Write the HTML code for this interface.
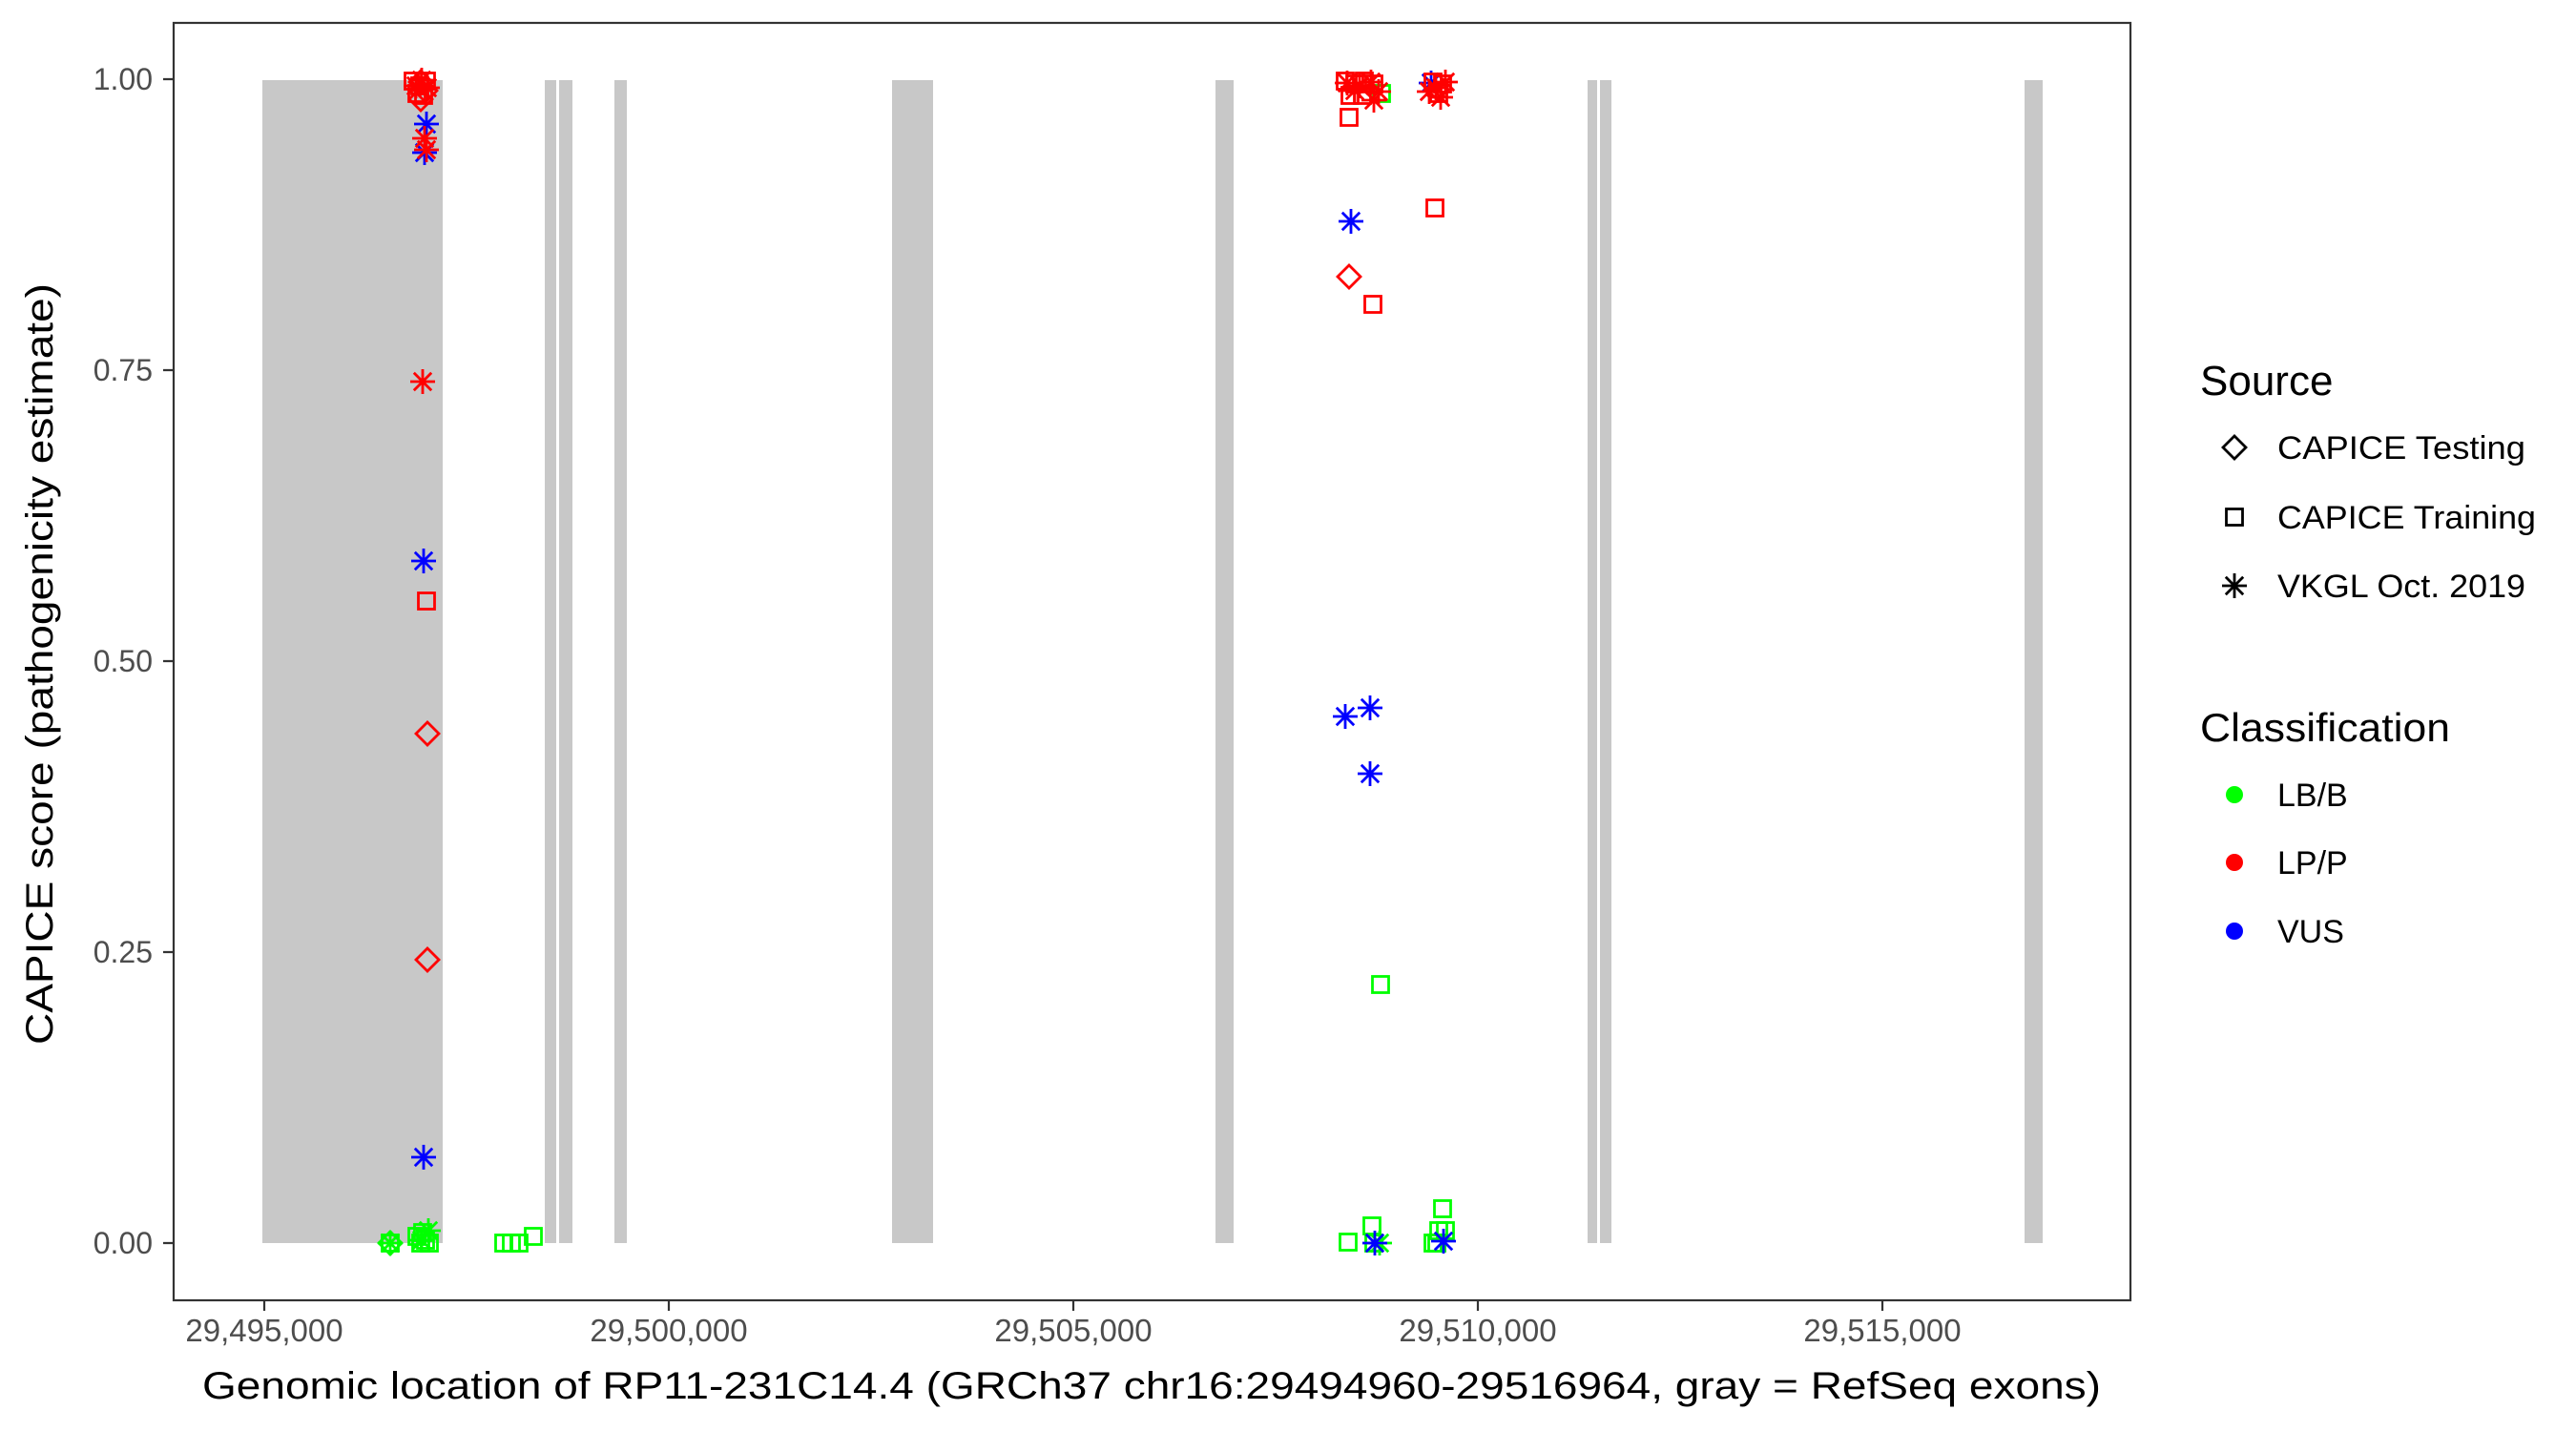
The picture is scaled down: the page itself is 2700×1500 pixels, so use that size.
<!DOCTYPE html>
<html><head><meta charset="utf-8"><style>
html,body{margin:0;padding:0;background:#fff;}
svg{display:block;font-family:"Liberation Sans",Arial,sans-serif;}
</style></head><body>
<svg width="2700" height="1500" viewBox="0 0 2700 1500" xmlns="http://www.w3.org/2000/svg">
<defs>
<g id="sq"><rect x="-8.5" y="-8.5" width="17" height="17" fill="none" stroke-width="2.8"/></g>
<g id="di"><path d="M0,-12 L12,0 L0,12 L-12,0 Z" fill="none" stroke-width="2.8"/></g>
<g id="as" stroke-width="2.8"><path d="M-13,0 H13 M0,-13 V13 M-9.2,-9.2 L9.2,9.2 M-9.2,9.2 L9.2,-9.2"/></g>
</defs>
<rect width="2700" height="1500" fill="#fff"/>
<g fill="#c8c8c8">
<rect x="275" y="84" width="189" height="1219"/>
<rect x="571" y="84" width="12" height="1219"/>
<rect x="586" y="84" width="14" height="1219"/>
<rect x="644" y="84" width="13" height="1219"/>
<rect x="935" y="84" width="43" height="1219"/>
<rect x="1274" y="84" width="19" height="1219"/>
<rect x="1664" y="84" width="10" height="1219"/>
<rect x="1677" y="84" width="12" height="1219"/>
<rect x="2122" y="84" width="19" height="1219"/>
</g>
<g stroke="#00ff00" fill="none">
<use href="#sq" x="409" y="1303"/><use href="#di" x="409" y="1303"/><use href="#as" x="409" y="1303"/>
<use href="#sq" x="437" y="1296"/><use href="#sq" x="441" y="1303"/><use href="#sq" x="446" y="1300"/><use href="#sq" x="450" y="1303"/><use href="#sq" x="443" y="1292"/>
<use href="#as" x="449" y="1290"/><use href="#as" x="442" y="1300"/>
<use href="#sq" x="528" y="1303"/><use href="#sq" x="536" y="1303"/><use href="#sq" x="544" y="1303"/><use href="#sq" x="559" y="1296"/>
<use href="#sq" x="1413" y="1302"/><use href="#sq" x="1438" y="1285"/><use href="#sq" x="1440" y="1303"/><use href="#as" x="1446" y="1303"/><use href="#sq" x="1447" y="1032"/>
<use href="#sq" x="1512" y="1267"/><use href="#sq" x="1508" y="1290"/><use href="#sq" x="1515" y="1290"/><use href="#sq" x="1502" y="1303"/><use href="#sq" x="1506" y="1303"/>
<use href="#sq" x="1448" y="98"/>
</g>
<g stroke="#0000ff" fill="none">
<use href="#as" x="1441" y="1303"/><use href="#as" x="1513" y="1301"/>
<use href="#as" x="444" y="1213"/><use href="#as" x="444" y="588"/><use href="#as" x="447" y="130"/><use href="#as" x="445" y="160"/>
<use href="#as" x="1416" y="232"/><use href="#as" x="1410" y="751"/><use href="#as" x="1436" y="742"/><use href="#as" x="1436" y="811"/>
<use href="#as" x="1500" y="87"/>
</g>
<g stroke="#ff0000" fill="none">
<use href="#as" x="443" y="400"/><use href="#sq" x="447" y="630"/><use href="#di" x="448" y="769"/><use href="#di" x="448" y="1006"/>
<use href="#as" x="445" y="145"/><use href="#as" x="447" y="157"/>
<use href="#sq" x="433" y="85"/><use href="#sq" x="440" y="90"/><use href="#sq" x="447" y="85"/><use href="#sq" x="437" y="98"/><use href="#sq" x="444" y="100"/>
<use href="#di" x="441" y="86"/><use href="#di" x="446" y="95"/><use href="#di" x="441" y="104"/><use href="#as" x="436" y="90"/><use href="#as" x="448" y="92"/><use href="#as" x="442" y="84"/>
<use href="#sq" x="1414" y="123"/><use href="#sq" x="1439" y="319"/><use href="#sq" x="1504" y="218"/><use href="#di" x="1414" y="290"/>
<use href="#sq" x="1410" y="85"/><use href="#sq" x="1420" y="88"/><use href="#sq" x="1430" y="85"/><use href="#sq" x="1440" y="88"/><use href="#sq" x="1415" y="100"/><use href="#sq" x="1428" y="100"/>
<use href="#as" x="1412" y="87"/><use href="#as" x="1425" y="90"/><use href="#as" x="1437" y="86"/><use href="#as" x="1445" y="96"/><use href="#as" x="1440" y="105"/><use href="#as" x="1420" y="95"/>
<use href="#sq" x="1502" y="86"/><use href="#sq" x="1512" y="88"/><use href="#sq" x="1508" y="98"/><use href="#as" x="1505" y="92"/><use href="#as" x="1515" y="86"/><use href="#as" x="1510" y="102"/><use href="#as" x="1498" y="96"/>
</g>
<rect x="182" y="24" width="2051" height="1339" fill="none" stroke="#333" stroke-width="2.2"/>
<g stroke="#333" stroke-width="2.2">
<path d="M171,83H182M171,388H182M171,693H182M171,998H182M171,1303H182"/>
<path d="M277,1363V1374M701,1363V1374M1125,1363V1374M1549,1363V1374M1973,1363V1374"/>
</g>
<g fill="#4d4d4d" font-size="32" text-anchor="end">
<text x="160" y="94">1.00</text><text x="160" y="399">0.75</text><text x="160" y="704">0.50</text><text x="160" y="1009">0.25</text><text x="160" y="1314">0.00</text>
</g>
<g fill="#4d4d4d" font-size="33" text-anchor="middle">
<text x="277" y="1406">29,495,000</text><text x="701" y="1406">29,500,000</text><text x="1125" y="1406">29,505,000</text><text x="1549" y="1406">29,510,000</text><text x="1973" y="1406">29,515,000</text>
</g>
<text x="1207" y="1466" font-size="40" text-anchor="middle" textLength="1990" lengthAdjust="spacingAndGlyphs">Genomic location of RP11-231C14.4 (GRCh37 chr16:29494960-29516964, gray = RefSeq exons)</text>
<text transform="translate(55,696) rotate(-90)" font-size="40" text-anchor="middle" textLength="798" lengthAdjust="spacingAndGlyphs">CAPICE score (pathogenicity estimate)</text>
<text x="2306" y="414" font-size="44">Source</text>
<g stroke="#000" fill="none">
<use href="#di" x="2342" y="469"/><use href="#sq" x="2342" y="542"/><use href="#as" x="2342" y="614"/>
</g>
<g font-size="34">
<text x="2387" y="481" textLength="260" lengthAdjust="spacingAndGlyphs">CAPICE Testing</text>
<text x="2387" y="554" textLength="271" lengthAdjust="spacingAndGlyphs">CAPICE Training</text>
<text x="2387" y="626" textLength="260" lengthAdjust="spacingAndGlyphs">VKGL Oct. 2019</text>
</g>
<text x="2306" y="777" font-size="42" textLength="262" lengthAdjust="spacingAndGlyphs">Classification</text>
<circle cx="2342" cy="833" r="9" fill="#00ff00"/><circle cx="2342" cy="904" r="9" fill="#ff0000"/><circle cx="2342" cy="976" r="9" fill="#0000ff"/>
<g font-size="34">
<text x="2387" y="845">LB/B</text>
<text x="2387" y="916">LP/P</text>
<text x="2387" y="988">VUS</text>
</g>
</svg>
</body></html>
